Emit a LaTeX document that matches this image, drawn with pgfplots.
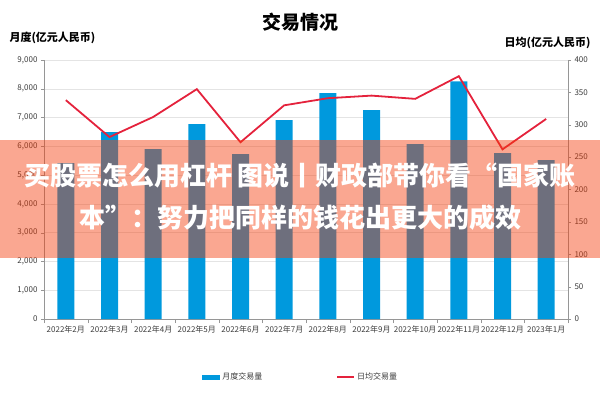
\documentclass[border=0pt]{standalone}
\usepackage{fontspec}
\setmainfont{Noto Sans CJK SC}
\usepackage{pgfplots}
\pgfplotsset{compat=1.18}

\definecolor{barblue}{RGB}{0,153,221}
\definecolor{linered}{RGB}{228,34,60}
\definecolor{gridgray}{RGB}{228,228,228}
\definecolor{axisgray}{RGB}{150,150,150}
\definecolor{ticktext}{RGB}{60,60,60}
\definecolor{banner}{RGB}{244,60,10}

\begin{document}
\begin{tikzpicture}[x=1pt,y=1pt]
\useasboundingbox (0,0) rectangle (600,400);

% left axis: monthly volume (bars)
\begin{axis}[
  at={(44pt,81pt)}, anchor=south west,
  scale only axis, width=524pt, height=259pt,
  xmin=-0.5, xmax=11.5, ymin=0, ymax=9000,
  axis x line*=bottom, axis y line*=left,
  axis line style={draw=axisgray, -},
  ytick={0,1000,...,9000},
  xtick={0,...,11},
  xticklabels={2022年2月,2022年3月,2022年4月,2022年5月,2022年6月,2022年7月,2022年8月,2022年9月,2022年10月,2022年11月,2022年12月,2023年1月},
  minor xtick={-0.5,0.5,...,11.5},
  major x tick style={draw=none},
  minor x tick style={draw=axisgray},
  y tick style={draw=axisgray},
  tick align=outside, major tick length=3pt, minor tick length=4pt,
  ymajorgrids, major grid style={draw=gridgray},
  ticklabel style={font=\fontsize{8}{9}\selectfont, text=ticktext},
  /pgf/number format/.cd, 1000 sep={,}, assume math mode=true,
  /pgfplots/.cd,
  legend style={draw=none, at={(0.49,-0.224)}, anchor=center,
    font=\fontsize{8}{9}\selectfont, text=ticktext},
  legend columns=2,
  /tikz/every even column/.append style={column sep=72pt},
]
\addplot[ybar, bar width=17pt, fill=barblue, draw=none,
  legend image code/.code={\fill[barblue] (0pt,-2.5pt) rectangle (18pt,2.5pt);}]
  coordinates {
  (0,5420) (1,6490) (2,5900) (3,6770) (4,5730) (5,6910)
  (6,7850) (7,7260) (8,6080) (9,8260) (10,5760) (11,5520)
};
\addlegendentry{月度交易量}
\addlegendimage{linered, line width=1.8pt}
\addlegendentry{日均交易量}
\end{axis}

% right axis: daily average (line)
\begin{axis}[
  at={(44pt,81pt)}, anchor=south west,
  scale only axis, width=524pt, height=259pt,
  xmin=-0.5, xmax=11.5, ymin=0, ymax=400,
  axis x line=none, axis y line*=right,
  axis line style={draw=axisgray, -},
  ytick={0,50,...,400},
  y tick style={draw=axisgray},
  tick align=outside, major tick length=3pt,
  ticklabel style={font=\fontsize{8}{9}\selectfont, text=ticktext},
  /pgf/number format/assume math mode=true,
]
\addplot[linered, line width=1.8pt, mark=none] coordinates {
  (0,338) (1,281) (2,312) (3,355) (4,273) (5,330)
  (6,341) (7,345) (8,340) (9,375) (10,262) (11,309)
};
\end{axis}

% titles
\node[font=\fontsize{19}{21}\selectfont\bfseries] at (300,378) {交易情况};
\node[font=\fontsize{11}{12}\selectfont\bfseries, anchor=west] at (6,362) {月度(亿元人民币)};
\node[font=\fontsize{11}{12}\selectfont\bfseries, anchor=east] at (594,357) {日均(亿元人民币)};

% overlay banner
\fill[banner, opacity=0.45] (0,142) rectangle (600,260);
\node[text=white, font=\fontsize{26}{29}\selectfont\bfseries] at (300,224) {买股票怎么用杠杆 图说丨财政部带你看“国家账};
\node[text=white, font=\fontsize{26}{29}\selectfont\bfseries] at (300,182) {本”：努力把同样的钱花出更大的成效};
\end{tikzpicture}
\end{document}
